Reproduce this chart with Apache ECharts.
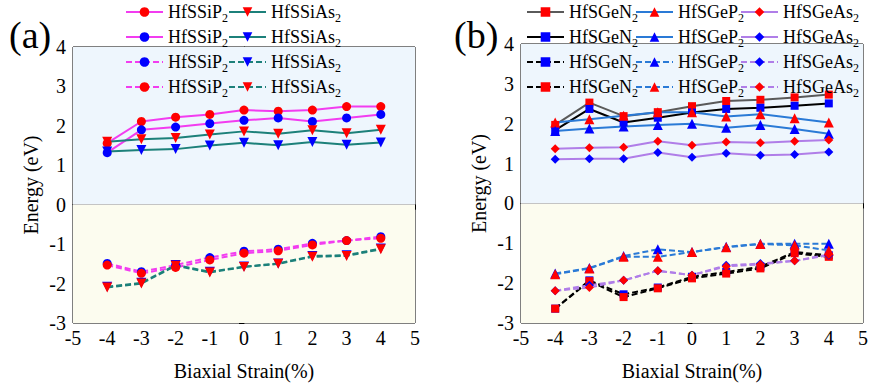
<!DOCTYPE html>
<html>
<head>
<meta charset="utf-8">
<script src="https://cdn.jsdelivr.net/npm/echarts@6/dist/echarts.min.js"></script>
<style>
  html, body { margin: 0; padding: 0; background: #fff; }
  #chart { width: 872px; height: 389px; font-family: "Liberation Serif", serif; }
</style>
</head>
<body>
<div id="chart"></div>
<script>
const strain = [-4, -3, -2, -1, 0, 1, 2, 3, 4];

// (a) HfSSiP2 / HfSSiAs2
const siP2Red = [1.56, 2.11, 2.22, 2.29, 2.40, 2.37, 2.40, 2.49, 2.49];
const siP2Blue = [1.32, 1.90, 1.97, 2.06, 2.14, 2.20, 2.11, 2.20, 2.29];
const siAs2Red = [1.60, 1.66, 1.69, 1.78, 1.86, 1.80, 1.89, 1.81, 1.90];
const siAs2Blue = [1.35, 1.39, 1.41, 1.50, 1.57, 1.51, 1.59, 1.52, 1.58];
const siP2BlueV = [-1.49, -1.70, -1.53, -1.34, -1.18, -1.13, -0.98, -0.91, -0.81];
const siP2RedV = [-1.53, -1.74, -1.59, -1.40, -1.23, -1.17, -1.02, -0.91, -0.85];
const siAs2BlueV = [-2.08, -1.98, -1.53, -1.70, -1.57, -1.49, -1.30, -1.28, -1.11];
const siAs2RedV = [-2.10, -2.00, -1.55, -1.72, -1.58, -1.50, -1.32, -1.30, -1.13];

// (b) HfSGeN2 / HfSGeP2 / HfSGeAs2
const geN2Red = [1.97, 2.53, 2.19, 2.29, 2.44, 2.57, 2.60, 2.66, 2.73];
const geN2Blue = [1.84, 2.37, 2.03, 2.15, 2.28, 2.37, 2.40, 2.45, 2.51];
const geP2Red = [2.03, 2.11, 2.20, 2.29, 2.29, 2.18, 2.24, 2.14, 2.03];
const geP2Blue = [1.82, 1.88, 1.93, 1.97, 2.00, 1.90, 1.97, 1.87, 1.75];
const geAs2Red = [1.37, 1.40, 1.41, 1.56, 1.46, 1.54, 1.52, 1.56, 1.59];
const geAs2Blue = [1.11, 1.12, 1.12, 1.28, 1.16, 1.26, 1.21, 1.23, 1.29];
const geN2BlueV = [-2.64, -1.93, -2.28, -2.11, -1.84, -1.72, -1.59, -1.22, -1.30];
const geN2RedV = [-2.64, -1.95, -2.35, -2.13, -1.88, -1.76, -1.63, -1.25, -1.34];
const geP2BlueV = [-1.76, -1.62, -1.32, -1.15, -1.22, -1.09, -1.01, -1.01, -1.01];
const geP2RedV = [-1.78, -1.63, -1.34, -1.34, -1.22, -1.10, -1.02, -1.05, -1.18];
const geAs2BlueV = [-2.19, -2.05, -1.93, -1.69, -1.80, -1.55, -1.51, -1.44, -1.30];
const geAs2RedV = [-2.19, -2.11, -1.93, -1.69, -1.80, -1.58, -1.53, -1.44, -1.28];

const yTicksMin = -3, yTicksMax = 4;
const xTicksMin = -5, xTicksMax = 5;

const font = '"Liberation Serif", "DejaVu Serif", serif';
const RED = '#ff0000', BLUE = '#0000ff';

// key, label, grid, data, line colour, dashed, symbol, marker colour, legend column
const lines = [
  ['a1', 'HfSSiP', 0, siP2Red, '#f23cf0', false, 'circle', RED, 0],
  ['a2', 'HfSSiP', 0, siP2Blue, '#f23cf0', false, 'circle', BLUE, 0],
  ['a3', 'HfSSiP', 0, siP2BlueV, '#f23cf0', true, 'circle', BLUE, 0],
  ['a4', 'HfSSiP', 0, siP2RedV, '#f23cf0', true, 'circle', RED, 0],
  ['a5', 'HfSSiAs', 0, siAs2Red, '#1c807a', false, 'triangle', RED, 1],
  ['a6', 'HfSSiAs', 0, siAs2Blue, '#1c807a', false, 'triangle', BLUE, 1],
  ['a7', 'HfSSiAs', 0, siAs2BlueV, '#1c807a', true, 'triangle', BLUE, 1],
  ['a8', 'HfSSiAs', 0, siAs2RedV, '#1c807a', true, 'triangle', RED, 1],
  ['b1', 'HfSGeN', 1, geN2Red, '#5a5a5a', false, 'rect', RED, 0],
  ['b2', 'HfSGeN', 1, geN2Blue, '#000000', false, 'rect', BLUE, 0],
  ['b3', 'HfSGeN', 1, geN2BlueV, '#000000', true, 'rect', BLUE, 0],
  ['b4', 'HfSGeN', 1, geN2RedV, '#000000', true, 'rect', RED, 0],
  ['b5', 'HfSGeP', 1, geP2Red, '#2a7ad6', false, 'triangle', RED, 1],
  ['b6', 'HfSGeP', 1, geP2Blue, '#2a7ad6', false, 'triangle', BLUE, 1],
  ['b7', 'HfSGeP', 1, geP2BlueV, '#2a7ad6', true, 'triangle', BLUE, 1],
  ['b8', 'HfSGeP', 1, geP2RedV, '#2a7ad6', true, 'triangle', RED, 1],
  ['b9', 'HfSGeAs', 1, geAs2Red, '#b07ee8', false, 'diamond', RED, 2],
  ['b10', 'HfSGeAs', 1, geAs2Blue, '#b07ee8', false, 'diamond', BLUE, 2],
  ['b11', 'HfSGeAs', 1, geAs2BlueV, '#b07ee8', true, 'diamond', BLUE, 2],
  ['b12', 'HfSGeAs', 1, geAs2RedV, '#b07ee8', true, 'diamond', RED, 2]
];

const labelOf = {};
lines.forEach(l => { labelOf[l[0]] = l[1]; });

const symSize = { circle: 9, triangle: 10, rect: 8, diamond: 9 };

function makeAxes(i) {
  return {
    x: {
      type: 'value', gridIndex: i, min: xTicksMin, max: xTicksMax, interval: 1,
      name: 'Biaxial Strain(%)', nameLocation: 'middle', nameGap: 38,
      nameTextStyle: { fontFamily: font, fontSize: 20, color: '#000' },
      axisLine: { lineStyle: { color: '#000', width: 1 } },
      axisTick: { inside: false, length: 5, lineStyle: { color: '#000' } },
      axisLabel: { fontFamily: font, fontSize: 20, color: '#000', margin: 5 },
      splitLine: { show: false }
    },
    y: {
      type: 'value', gridIndex: i, min: yTicksMin, max: yTicksMax, interval: 1,
      name: 'Energy (eV)', nameLocation: 'middle', nameGap: 32,
      nameTextStyle: { fontFamily: font, fontSize: 20, color: '#000' },
      axisLine: { show: true, lineStyle: { color: '#000', width: 1 } },
      axisTick: { inside: false, length: 5, lineStyle: { color: '#000' } },
      minorTick: { show: true, splitNumber: 2, length: 3, lineStyle: { color: '#000' } },
      axisLabel: { fontFamily: font, fontSize: 20, color: '#000', margin: 7 },
      splitLine: { show: false }
    }
  };
}

const axA = makeAxes(0), axB = makeAxes(1);

// background bands + zero line, drawn first
function bandSeries(i) {
  return {
    name: 'bg' + i, type: 'line', xAxisIndex: i, yAxisIndex: i, data: [], silent: true,
    markArea: {
      silent: true,
      data: [
        [{ yAxis: 0, itemStyle: { color: '#eef6fd' } }, { yAxis: 4 }],
        [{ yAxis: -3, itemStyle: { color: '#fcfcef' } }, { yAxis: 0 }]
      ]
    },
    markLine: {
      silent: true, symbol: 'none', label: { show: false },
      lineStyle: { color: '#c4c4c4', type: 'solid', width: 1 },
      data: [{ yAxis: 0 }]
    }
  };
}

const series = [bandSeries(0), bandSeries(1)];
lines.forEach(l => {
  series.push({
    name: l[0], type: 'line', xAxisIndex: l[2], yAxisIndex: l[2],
    data: strain.map((s, k) => [s, l[3][k]]),
    symbol: l[6], symbolSize: symSize[l[6]],
    symbolRotate: (l[0][0] === 'a' && l[6] === 'triangle') ? 180 : 0,
    lineStyle: { color: l[4], width: 2, type: l[5] ? [6, 3] : 'solid' },
    itemStyle: { color: l[7], borderWidth: 0 },
    emphasis: { disabled: true }
  });
});

function legendCol(grid, col, left, top) {
  return {
    orient: 'vertical', left: left, top: top, itemGap: 1, padding: 0,
    itemWidth: 37, itemHeight: 12,
    data: lines.filter(l => l[2] === grid && l[8] === col).map(l => l[0]),
    formatter: name => '{m|' + labelOf[name] + '}{s|2}',
    textStyle: {
      rich: {
        m: { fontFamily: font, fontSize: 18, color: '#000', height: 24, lineHeight: 24 },
        s: { fontFamily: font, fontSize: 12, color: '#000', lineHeight: 12, verticalAlign: 'bottom' }
      }
    },
    selectedMode: false
  };
}

// svg renderer: try to get the serif family onto the axis text as well
let myChart = echarts.init(document.getElementById('chart'), null, { renderer: 'svg' });
myChart.setOption({
  animation: false,
  backgroundColor: '#fff',
  textStyle: { fontFamily: font },
  grid: [
    { left: 73, top: 47, width: 342, height: 276, show: true, borderColor: '#000', borderWidth: 1, backgroundColor: 'transparent' },
    { left: 521, top: 44, width: 342, height: 279, show: true, borderColor: '#000', borderWidth: 1, backgroundColor: 'transparent' }
  ],
  xAxis: [axA.x, axB.x],
  yAxis: [axA.y, axB.y],
  legend: [
    legendCol(0, 0, 125, 0),
    legendCol(0, 1, 228, 0),
    legendCol(1, 0, 526, 0),
    legendCol(1, 1, 635, 0),
    legendCol(1, 2, 740, 0)
  ],
  graphic: [
    { type: 'text', left: 9, top: 16, style: { text: '(a)', fontFamily: font, fontSize: 38, fill: '#000' } },
    { type: 'text', left: 454, top: 16, style: { text: '(b)', fontFamily: font, fontSize: 38, fill: '#000' } }
  ],
  series: series
});
</script>
</body>
</html>
